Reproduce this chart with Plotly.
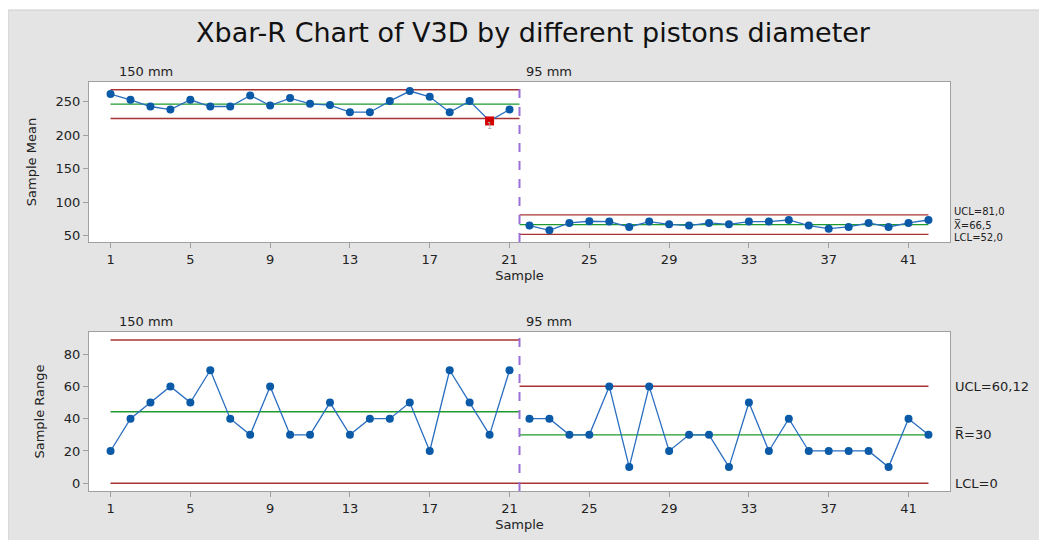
import plotly.graph_objects as go

# page is rendered with an 8px body margin, so figure px = page px - 8
OFF = 8
W, H = 1047 - OFF, 540 - OFF

# ---------------- data ----------------
samples_s1 = list(range(1, 22))
samples_s2 = list(range(22, 43))
xbar_s1 = [261, 252.5, 242.5, 238, 252.5, 242.5, 242.5, 259, 244, 255, 246.5,
           244.6, 234, 234, 250.6, 265.5, 257, 234, 250.6, 221, 238]
xbar_s2 = [65, 58, 69, 71.5, 71, 63, 71, 67, 65, 69, 67, 71, 71, 73.4, 65,
           60.5, 63, 69, 63, 69, 73.4]
range_s1 = [20, 40, 50, 60, 50, 70, 40, 30, 60, 30, 30, 50, 30, 40, 40, 50,
            20, 70, 50, 30, 70]
range_s2 = [40, 40, 30, 30, 60, 10, 60, 20, 30, 30, 10, 50, 20, 40, 20, 20,
            20, 20, 10, 40, 30]
out_sample = [20]
out_value = [221]

xbar_limits_s1 = {"UCL": 267.4, "CL": 246.0, "LCL": 224.6}
xbar_limits_s2 = {"UCL": 81.0, "CL": 66.5, "LCL": 52.0}
r_limits_s1 = {"UCL": 88.75, "CL": 44.29, "LCL": 0}
r_limits_s2 = {"UCL": 60.12, "CL": 30, "LCL": 0}
stage_bounds_s1 = [1, 21.5]
stage_bounds_s2 = [21.5, 42]
stage_names = ["150 mm", "95 mm"]
tick_vals = [1, 5, 9, 13, 17, 21, 25, 29, 33, 37, 41]
xbar_labels = ["UCL=81,0", "X\u0305=66,5", "LCL=52,0"]
r_labels = ["UCL=60,12", "R\u0305=30", "LCL=0"]

# ---------------- style ----------------
BLUE = "#0a5aa8"
LINEBLUE = "#2a6ec0"
RED = "#a83232"
GREEN = "#1f9a2e"
PURPLE = "#9a6fd8"
FONT = "DejaVu Sans"
AXCOL = "#a0a0a0"
TXT = "#222"


def px(x):
    return (x - OFF) / W


def py(y):
    return 1 - (y - OFF) / H


fig = go.Figure()


def add_chart(xa, ya, s1, s2, lim1, lim2):
    for seg, lim in ((stage_bounds_s1, lim1), (stage_bounds_s2, lim2)):
        for key in ("UCL", "LCL", "CL"):
            fig.add_trace(go.Scatter(
                x=seg, y=[lim[key], lim[key]], mode="lines",
                line=dict(color=GREEN if key == "CL" else RED, width=1.4),
                xaxis=xa, yaxis=ya, hoverinfo="skip", showlegend=False))
    for xs, ys in ((samples_s1, s1), (samples_s2, s2)):
        fig.add_trace(go.Scatter(
            x=xs, y=ys, mode="lines+markers",
            line=dict(color=LINEBLUE, width=1.3),
            marker=dict(color=BLUE, size=8),
            xaxis=xa, yaxis=ya, showlegend=False))


add_chart("x", "y", xbar_s1, xbar_s2, xbar_limits_s1, xbar_limits_s2)
add_chart("x2", "y2", range_s1, range_s2, r_limits_s1, r_limits_s2)

fig.add_trace(go.Scatter(
    x=out_sample, y=out_value, mode="markers",
    marker=dict(color="#d40000", size=9, symbol="square"),
    xaxis="x", yaxis="y", showlegend=False))
fig.add_trace(go.Scatter(
    x=out_sample, y=[v - 9 for v in out_value], mode="text", text=["1"],
    textfont=dict(family=FONT, size=8, color="#b0b0b0"),
    xaxis="x", yaxis="y", showlegend=False, hoverinfo="skip"))

xdom = [px(89), px(950)]
top_dom = [py(242), py(82)]
bot_dom = [py(491), py(332)]

xaxis_common = dict(
    range=[-0.08, 43.08], tickmode="array", tickvals=tick_vals,
    ticks="outside", ticklen=5, tickcolor=AXCOL, showgrid=False,
    zeroline=False, showline=True, linecolor=AXCOL, linewidth=1, mirror=True,
    tickfont=dict(family=FONT, size=13, color=TXT),
    title=dict(text="Sample", font=dict(family=FONT, size=13, color=TXT), standoff=5),
    automargin=False, fixedrange=True)
yaxis_common = dict(
    ticks="outside", ticklen=5, tickcolor=AXCOL, showgrid=False,
    zeroline=False, showline=True, linecolor=AXCOL, linewidth=1, mirror=True,
    tickfont=dict(family=FONT, size=13, color=TXT),
    automargin=False, fixedrange=True)

fig.update_layout(
    width=W, height=H,
    margin=dict(l=0, r=0, t=0, b=0),
    paper_bgcolor="#e4e4e4", plot_bgcolor="white",
    font=dict(family=FONT, color=TXT),
    xaxis=dict(domain=xdom, anchor="y", **xaxis_common),
    yaxis=dict(domain=top_dom, anchor="x", range=[40.6, 279],
               tickvals=[50, 100, 150, 200, 250],
               title=dict(text="Sample Mean", font=dict(family=FONT, size=13, color=TXT), standoff=16),
               **yaxis_common),
    xaxis2=dict(domain=xdom, anchor="y2", **xaxis_common),
    yaxis2=dict(domain=bot_dom, anchor="x2", range=[-4.8, 93.7],
                tickvals=[0, 20, 40, 60, 80],
                title=dict(text="Sample Range", font=dict(family=FONT, size=13, color=TXT), standoff=16),
                **yaxis_common),
    showlegend=False,
)

# white strip above the gray panel and panel border
fig.add_shape(type="rect", xref="paper", yref="paper",
              x0=0, x1=1, y0=py(10), y1=1,
              fillcolor="white", line=dict(width=0), layer="below")
fig.add_shape(type="line", xref="paper", yref="paper",
              x0=0, x1=1, y0=py(10), y1=py(10),
              line=dict(color="#cdcdcd", width=1), layer="below")
fig.add_shape(type="line", xref="paper", yref="paper",
              x0=0, x1=0, y0=0, y1=py(10),
              line=dict(color="#cdcdcd", width=1), layer="below")

# stage dividers
for ya in ("y", "y2"):
    fig.add_shape(type="line", xref="x" if ya == "y" else "x2",
                  yref=f"{ya} domain", x0=21.5, x1=21.5, y0=0, y1=1,
                  line=dict(color=PURPLE, width=2, dash="dash"), layer="above")

# title
fig.add_annotation(text="Xbar-R Chart of V3D by different pistons diameter",
                   xref="paper", yref="paper", x=px(533), y=py(33),
                   showarrow=False, font=dict(family=FONT, size=27, color="#111"),
                   xanchor="center", yanchor="middle")

# stage labels
for yy in (71, 321):
    fig.add_annotation(text=stage_names[0], xref="paper", yref="paper",
                       x=px(117), y=py(yy), showarrow=False, xanchor="left",
                       yanchor="middle", font=dict(family=FONT, size=13, color=TXT))
    fig.add_annotation(text=stage_names[1], xref="paper", yref="paper",
                       x=px(524), y=py(yy), showarrow=False, xanchor="left",
                       yanchor="middle", font=dict(family=FONT, size=13, color=TXT))

# limit labels on right (tightly packed in the top chart, as in the original)
top_shifts = [3, 0, -3]
for txt, val, sh in zip(xbar_labels,
                        [xbar_limits_s2["UCL"], xbar_limits_s2["CL"], xbar_limits_s2["LCL"]],
                        top_shifts):
    fig.add_annotation(text=txt, xref="paper", yref="y", x=px(953), y=val,
                       yshift=sh, showarrow=False, xanchor="left", yanchor="middle",
                       borderpad=0,
                       font=dict(family=FONT, size=10, color=TXT))
for txt, val in zip(r_labels, [r_limits_s2["UCL"], r_limits_s2["CL"], r_limits_s2["LCL"]]):
    fig.add_annotation(text=txt, xref="paper", yref="y2", x=px(953), y=val,
                       showarrow=False, xanchor="left", yanchor="middle",
                       font=dict(family=FONT, size=13, color=TXT))

fig.write_html("out.html")
